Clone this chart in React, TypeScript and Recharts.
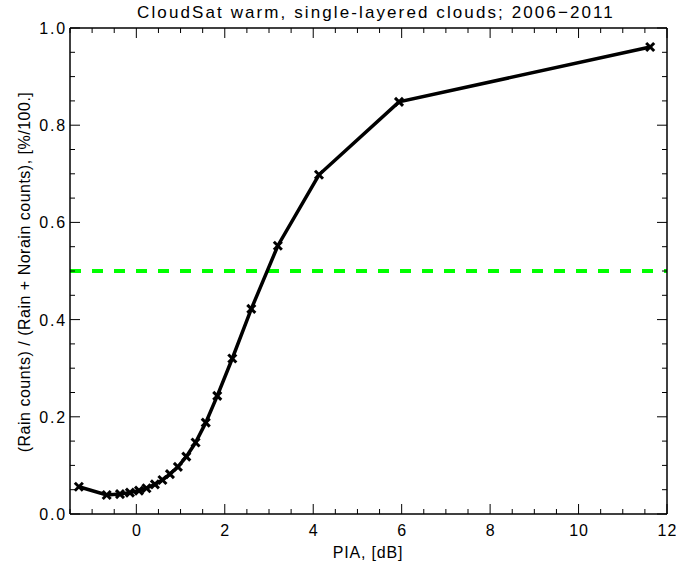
import React from "react";
import { LineChart, Line, XAxis, YAxis, ReferenceLine } from "recharts";

const piaValues = [-1.3, -0.67, -0.37, -0.145, 0.06, 0.23, 0.42, 0.59, 0.76, 0.94, 1.13, 1.34, 1.57, 1.83, 2.17, 2.6, 3.2, 4.13, 5.94, 11.62];
const rainFraction = [0.056, 0.039, 0.041, 0.044, 0.048, 0.053, 0.061, 0.07, 0.082, 0.097, 0.118, 0.147, 0.188, 0.243, 0.32, 0.422, 0.552, 0.698, 0.848, 0.961];

const xMajorTicks = [0, 2, 4, 6, 8, 10, 12];
const xMinorTicks = [-1.5, -1, -0.5, 0.5, 1, 1.5, 2.5, 3, 3.5, 4.5, 5, 5.5, 6.5, 7, 7.5, 8.5, 9, 9.5, 10.5, 11, 11.5];
const yMajorTicks = [0, 0.2, 0.4, 0.6, 0.8, 1.0];
const yMinorTicks = [0.05, 0.1, 0.15, 0.25, 0.3, 0.35, 0.45, 0.5, 0.55, 0.65, 0.7, 0.75, 0.85, 0.9, 0.95];
const threshold = 0.5;

const titleText = "CloudSat warm, single-layered clouds; 2006\u22122011";
const xTitle = "PIA, [dB]";
const yTitle = "(Rain counts) / (Rain + Norain counts), [%/100.]";

const data = piaValues.map((p, i) => ({ pia: p, frac: rainFraction[i] }));
const xTicks = [...xMajorTicks, ...xMinorTicks].sort((a, b) => a - b);
const yTicks = [...yMajorTicks, ...yMinorTicks].sort((a, b) => a - b);

const FONT = "'Liberation Sans', Arial, sans-serif";
const MAJ = 10;
const MIN = 5;

const isMajor = (arr: number[], v: number) => arr.some((m) => Math.abs(m - v) < 1e-9);

const BottomTick = (props: any) => {
  const { x, y, payload } = props;
  const v = payload.value;
  const major = isMajor(xMajorTicks, v);
  return (
    <g>
      <line x1={x} x2={x} y1={y} y2={y - (major ? MAJ : MIN)} stroke="#000" strokeWidth={1} />
      {major && (
        <text x={x + 0.5} y={y + 22} textAnchor="middle" fontFamily={FONT} fontSize={16} letterSpacing={1} fill="#000">
          {String(v)}
        </text>
      )}
    </g>
  );
};

const TopTick = (props: any) => {
  const { x, y, payload } = props;
  const major = isMajor(xMajorTicks, payload.value);
  return <line x1={x} x2={x} y1={y} y2={y + (major ? MAJ : MIN)} stroke="#000" strokeWidth={1} />;
};

const LeftTick = (props: any) => {
  const { x, y, payload } = props;
  const v = payload.value;
  const major = isMajor(yMajorTicks, v);
  return (
    <g>
      <line x1={x} x2={x + (major ? MAJ : MIN)} y1={y} y2={y} stroke="#000" strokeWidth={1} />
      {major && (
        <text x={x - 3} y={y + 6} textAnchor="end" fontFamily={FONT} fontSize={16} letterSpacing={1.8} fill="#000">
          {v.toFixed(1)}
        </text>
      )}
    </g>
  );
};

const RightTick = (props: any) => {
  const { x, y, payload } = props;
  const major = isMajor(yMajorTicks, payload.value);
  return <line x1={x} x2={x - (major ? MAJ : MIN)} y1={y} y2={y} stroke="#000" strokeWidth={1} />;
};

const CrossDot = (props: any) => {
  const { cx, cy } = props;
  if (cx == null || cy == null) return null;
  const r = 4;
  return (
    <g>
      <line x1={cx - r} y1={cy - r} x2={cx + r} y2={cy + r} stroke="#000" strokeWidth={3} />
      <line x1={cx - r} y1={cy + r} x2={cx + r} y2={cy - r} stroke="#000" strokeWidth={3} />
    </g>
  );
};

export default function App() {
  return (
    <div style={{ position: "absolute", left: 0, top: 0, width: 676, height: 564, background: "#fff" }}>
      <LineChart width={676} height={564} data={data} margin={{ top: 0, right: 0, bottom: 0, left: 0 }}>
        <XAxis
          xAxisId="b"
          dataKey="pia"
          type="number"
          domain={[-1.5, 12]}
          allowDataOverflow
          ticks={xTicks}
          interval={0}
          orientation="bottom"
          height={50}
          tickSize={0}
          tickMargin={0}
          tickLine={false}
          axisLine={{ stroke: "#000", strokeWidth: 1.5 }}
          tick={<BottomTick />}
        />
        <XAxis
          xAxisId="t"
          dataKey="pia"
          type="number"
          domain={[-1.5, 12]}
          allowDataOverflow
          ticks={xTicks}
          interval={0}
          orientation="top"
          height={28}
          tickSize={0}
          tickMargin={0}
          tickLine={false}
          axisLine={{ stroke: "#000", strokeWidth: 1.5 }}
          tick={<TopTick />}
        />
        <YAxis
          yAxisId="l"
          dataKey="frac"
          type="number"
          domain={[0, 1]}
          allowDataOverflow
          ticks={yTicks}
          interval={0}
          orientation="left"
          width={70}
          tickSize={0}
          tickMargin={0}
          tickLine={false}
          axisLine={{ stroke: "#000", strokeWidth: 1.5 }}
          tick={<LeftTick />}
        />
        <YAxis
          yAxisId="r"
          dataKey="frac"
          type="number"
          domain={[0, 1]}
          allowDataOverflow
          ticks={yTicks}
          interval={0}
          orientation="right"
          width={9}
          tickSize={0}
          tickMargin={0}
          tickLine={false}
          axisLine={{ stroke: "#000", strokeWidth: 1.5 }}
          tick={<RightTick />}
        />
        <ReferenceLine
          xAxisId="b"
          yAxisId="l"
          y={threshold}
          stroke="#00ff00"
          strokeWidth={4}
          strokeDasharray="11 11"
        />
        <Line
          xAxisId="b"
          yAxisId="l"
          dataKey="frac"
          stroke="#000"
          strokeWidth={3.5}
          dot={<CrossDot />}
          activeDot={false}
          isAnimationActive={false}
        />
      </LineChart>
      <svg width={676} height={564} style={{ position: "absolute", left: 0, top: 0, pointerEvents: "none" }}>
        <text x={376} y={18} textAnchor="middle" fontFamily={FONT} fontSize={17} fill="#000" letterSpacing={2.1}>
          {titleText}
        </text>
        <text x={368} y={558} textAnchor="middle" fontFamily={FONT} fontSize={16} fill="#000" letterSpacing={0.8}>
          {xTitle}
        </text>
        <text
          x={0}
          y={0}
          transform="translate(30, 272) rotate(-90)"
          textAnchor="middle"
          fontFamily={FONT}
          fontSize={16}
          fill="#000"
          letterSpacing={0.5}
        >
          {yTitle}
        </text>
      </svg>
    </div>
  );
}
